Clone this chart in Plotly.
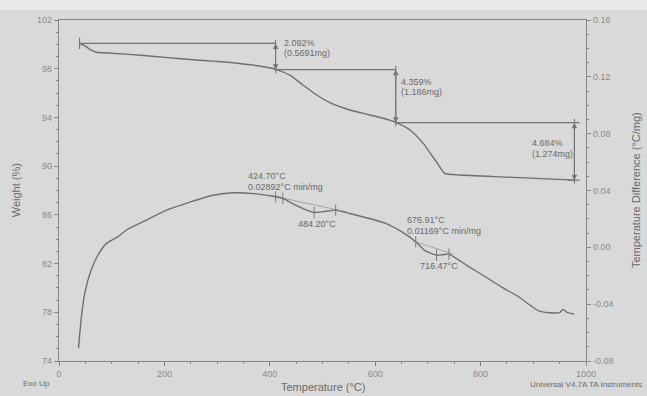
import plotly.graph_objects as go

# ---------------- data ----------------
# TGA curve: temperature (°C) vs weight (%)
tga_temp = [39, 50, 60, 71, 100, 150, 202, 260, 330, 380, 411, 438, 463, 489, 514,
            552, 590, 615, 639, 666, 691, 716, 732, 760, 850, 979]
tga_weight = [100.08, 99.85, 99.55, 99.35, 99.27, 99.12, 98.93, 98.72, 98.49, 98.22, 97.95,
              97.48, 96.66, 95.84, 95.21, 94.61, 94.20, 93.93, 93.60, 92.97, 91.87, 90.36,
              89.41, 89.27, 89.10, 88.85]

# DTA curve: temperature (°C) vs temperature difference (°C/mg)
dta_temp = [37, 42.5, 49, 61, 74, 90, 112, 128, 166, 204, 250, 290, 330, 370, 411, 424.7,
            450, 470, 484.2, 500, 525, 550, 576, 620, 650, 676.9, 695, 716.5, 728, 740,
            775, 809, 840, 872, 895, 910, 930, 950, 956, 965, 978]
dta_diff = [-0.071, -0.049, -0.032, -0.016, -0.0054, 0.0028, 0.0075, 0.0122, 0.0192, 0.0262,
            0.0320, 0.0365, 0.0384, 0.0378, 0.0356, 0.0345, 0.0295, 0.0262, 0.0245, 0.0250,
            0.0262, 0.0240, 0.0215, 0.0169, 0.0110, 0.0039, -0.0025, -0.0055, -0.0052,
            -0.0048, -0.0130, -0.0207, -0.0280, -0.0348, -0.0410, -0.0447, -0.0460, -0.0460,
            -0.0437, -0.0460, -0.0470]

# weight-loss steps
step_x = [39, 411, 639, 978]              # start point and arrow positions
step_level = [100.08, 97.92, 93.57, 88.85]
step_line_end = [411, 639, 988, 988]
step_line_start = [39, 411, 639, 965]
step_pct = ["2.092%", "4.359%", "4.684%"]
step_mg = ["(0.5691mg)", "(1.186mg)", "(1.274mg)"]
step_text_x = [424, 646, 894]
step_text_y1 = [100.14, 96.93, 91.93]
step_text_y2 = [99.32, 96.11, 91.00]

# DTA analysis marks
mark_temp = [411, 424.7, 484.2, 525, 676.9, 716.5, 740]
mark_diff = [0.0356, 0.0345, 0.0245, 0.0262, 0.0039, -0.0055, -0.0048]
tan1_temp = [400, 545]
tan1_diff = [0.0366, 0.0250]
tan2_temp = [672, 748]
tan2_diff = [0.0045, -0.0048]
dta_labels = ["424.70°C", "0.02892°C min/mg", "484.20°C",
              "676.91°C", "0.01169°C min/mg", "716.47°C"]
dta_label_x = [355, 355, 450.5, 656, 656, 682]
dta_label_y = [0.0502, 0.0426, 0.0165, 0.0192, 0.0114, -0.0130]

x_ticks = [0, 200, 400, 600, 800, 1000]
y_ticks = [74, 78, 82, 86, 90, 94, 98, 102]
y2_ticks = [-0.08, -0.04, 0.00, 0.04, 0.08, 0.12, 0.16]
y2_ticktext = ["-0.08", "-0.04", "0.00", "0.04", "0.08", "0.12", "0.16"]

# ---------------- styles ----------------
FONT = "Arial, Liberation Sans, sans-serif"
CURVE = "#6f6f6f"
LINE = "#747474"
TXT = "#6a6a6a"
TICK = "#8a8a8a"
BG = "#d9d9d9"

fig = go.Figure()

# TGA curve
fig.add_trace(go.Scatter(x=tga_temp, y=tga_weight, mode="lines",
                         line=dict(color=CURVE, width=1.4, shape="spline", smoothing=0.5),
                         yaxis="y", hoverinfo="skip"))
# DTA tangents
fig.add_trace(go.Scatter(x=tan1_temp, y=tan1_diff, mode="lines", line=dict(color="#a4a4a4", width=1),
                         yaxis="y2", hoverinfo="skip"))
fig.add_trace(go.Scatter(x=tan2_temp, y=tan2_diff, mode="lines", line=dict(color="#a4a4a4", width=1),
                         yaxis="y2", hoverinfo="skip"))
# DTA curve
fig.add_trace(go.Scatter(x=dta_temp, y=dta_diff, mode="lines",
                         line=dict(color=CURVE, width=1.4, shape="spline", smoothing=0.5),
                         yaxis="y2", hoverinfo="skip"))
# DTA marks
fig.add_trace(go.Scatter(x=mark_temp, y=mark_diff, mode="markers",
                         marker=dict(symbol="line-ns-open", size=8, color="#7a7a7a",
                                     line=dict(color="#7a7a7a", width=1)),
                         yaxis="y2", hoverinfo="skip"))

# step horizontal lines
for i in range(len(step_level)):
    fig.add_trace(go.Scatter(x=[step_line_start[i], step_line_end[i]], y=[step_level[i], step_level[i]],
                             mode="lines", line=dict(color=LINE, width=1.2), yaxis="y", hoverinfo="skip"))
# start tick
fig.add_trace(go.Scatter(x=[step_x[0]], y=[step_level[0]], mode="markers",
                         marker=dict(symbol="line-ns-open", size=8, color=LINE, line=dict(color=LINE, width=1.2)),
                         yaxis="y", hoverinfo="skip"))
# vertical step lines with arrows
for i in range(3):
    xv = step_x[i + 1]
    top, bot = step_level[i], step_level[i + 1]
    fig.add_trace(go.Scatter(x=[xv, xv], y=[top + 0.3, bot - 0.3], mode="lines",
                             line=dict(color=LINE, width=1.1), yaxis="y", hoverinfo="skip"))
    mid = (top + bot) / 2
    for tip in (top, bot):
        fig.add_annotation(x=xv, y=tip, ax=xv, ay=mid, xref="x", yref="y", axref="x", ayref="y",
                           showarrow=True, arrowhead=2, arrowsize=1.1, arrowwidth=1,
                           arrowcolor=LINE, text="")
    fig.add_annotation(x=step_text_x[i], y=step_text_y1[i], xref="x", yref="y", text=step_pct[i],
                       showarrow=False, xanchor="left", yanchor="middle", font=dict(size=9, color=TXT, family=FONT))
    fig.add_annotation(x=step_text_x[i], y=step_text_y2[i], xref="x", yref="y", text=step_mg[i],
                       showarrow=False, xanchor="left", yanchor="middle", font=dict(size=9, color=TXT, family=FONT))

for t, xx, yy in zip(dta_labels, dta_label_x, dta_label_y):
    fig.add_annotation(x=xx, y=yy, xref="x", yref="y2", text=t, showarrow=False,
                       xanchor="left", yanchor="middle", font=dict(size=9, color=TXT, family=FONT))

# axis titles and footers
fig.add_annotation(x=0.5, y=-0.076, xref="paper", yref="paper", text="Temperature (°C)", showarrow=False,
                   xanchor="center", yanchor="middle", font=dict(size=11, color=TXT, family=FONT))
fig.add_annotation(x=-0.082, y=0.5, xref="paper", yref="paper", text="Weight (%)", showarrow=False,
                   textangle=-90, xanchor="center", yanchor="middle", font=dict(size=11, color=TXT, family=FONT))
fig.add_annotation(x=1.094, y=0.5, xref="paper", yref="paper", text="Temperature Difference (°C/mg)",
                   showarrow=False, textangle=-90, xanchor="center", yanchor="middle",
                   font=dict(size=11, color=TXT, family=FONT))
fig.add_annotation(x=-0.073, y=-0.067, xref="paper", yref="paper", text="Exo Up", showarrow=False,
                   xanchor="left", yanchor="middle", font=dict(size=8, color=TXT, family=FONT))
fig.add_annotation(x=0.889, y=-0.070, xref="paper", yref="paper", text="Universal V4.7A TA Instruments",
                   showarrow=False, xanchor="left", yanchor="middle", font=dict(size=8, color=TXT, family=FONT))

# lighter scan strip at top
fig.add_shape(type="rect", xref="paper", yref="paper", x0=-0.2, x1=1.2, y0=1.0293, y1=1.2,
              fillcolor="#e9e9e9", line=dict(width=0), layer="below")

axis_common = dict(showgrid=False, zeroline=False, showline=True, linecolor="#858585", linewidth=1.3,
                   ticks="outside", ticklen=4, tickcolor="#858585",
                   tickfont=dict(size=9, color=TICK, family=FONT))

fig.update_layout(
    width=647, height=396,
    margin=dict(l=59, r=61, t=20, b=35),
    paper_bgcolor=BG, plot_bgcolor=BG,
    showlegend=False,
    font=dict(family=FONT, color=TXT),
    xaxis=dict(range=[0, 1000], tickvals=x_ticks, mirror=True,
               minor=dict(dtick=50, ticklen=2, tickcolor="#858585", ticks="outside"), **axis_common),
    yaxis=dict(range=[74, 102], tickvals=y_ticks,
               minor=dict(dtick=1, ticklen=2, tickcolor="#858585", ticks="outside"), **axis_common),
    yaxis2=dict(range=[-0.08, 0.16], tickvals=y2_ticks, ticktext=y2_ticktext, overlaying="y", side="right",
                minor=dict(dtick=0.01, ticklen=2, tickcolor="#858585", ticks="outside"), **axis_common),
)

fig.write_html("out.html")
